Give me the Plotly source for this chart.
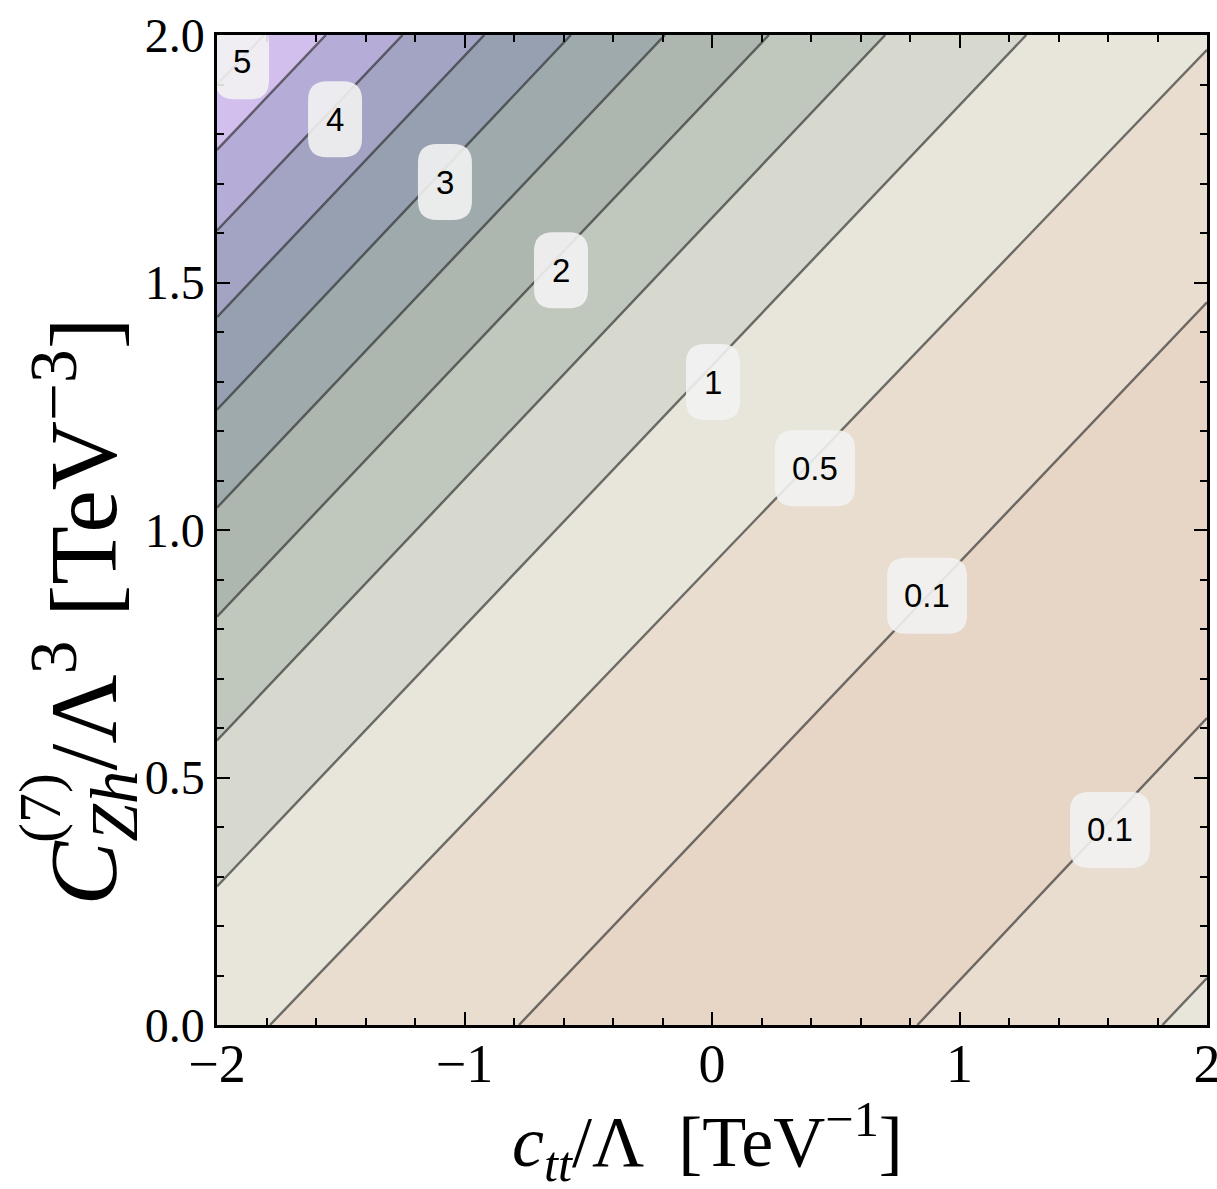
import plotly.graph_objects as go

# ---------------- data ----------------
# contour lines, ordered from lower-right to upper-left
line_levels = [0.5, 0.1, 0.1, 0.5, 1, 1.5, 2, 2.5, 3, 3.5, 4, 4.5, 5]
line_x0 = [1.82, 0.83, -0.78, -1.786, -2, -2, -2, -2, -2, -2, -2, -2, -2]
line_y0 = [0.0, 0.0, 0.0, 0.0, 0.28, 0.575, 0.825, 1.045, 1.243, 1.43, 1.605, 1.768, 1.90]
line_x1 = [2, 2, 2, 2, 1.27, 0.70, 0.23, -0.19, -0.57, -0.92, -1.25, -1.56, -1.81]
line_y1 = [0.095, 0.62, 1.46, 1.97, 2, 2, 2, 2, 2, 2, 2, 2, 2]

# fill colour of each band: below line 0, between consecutive lines, above last line
band_colors = ['#e8e6db', '#e9ddd0', '#e7d6c6', '#e9ddd0', '#e8e6db', '#d7d9cf',
               '#c0c8be', '#aeb6b0', '#9eaaac', '#97a0b0', '#a3a3c3', '#b5acd7',
               '#d2bfee', '#dccbf5']

# contour labels
label_text = ['5', '4', '3', '2', '1', '0.5', '0.1', '0.1']
label_x = [-1.899, -1.523, -1.079, -0.610, 0.004, 0.416, 0.869, 1.608]
label_y = [1.947, 1.830, 1.703, 1.525, 1.299, 1.125, 0.867, 0.394]

x_ticks = [-2, -1, 0, 1, 2]
y_ticks = [0, 0.5, 1, 1.5, 2]
y_ticktext = ['0.0', '0.5', '1.0', '1.5', '2.0']

# ---------------- build figure ----------------
XR = (-2, 2)
YR = (0, 2)
XE = (-3, 3)   # extension beyond the frame (clipped by the axes)


def line_at(i, x):
    x0, y0, x1, y1 = line_x0[i], line_y0[i], line_x1[i], line_y1[i]
    return y0 + (y1 - y0) * (x - x0) / (x1 - x0)


boundaries = [(lambda x: -1.0)] + [(lambda x, i=i: line_at(i, x)) for i in range(len(line_levels))] + [(lambda x: 3.0)]

fig = go.Figure()
for b in range(len(band_colors)):
    lo = boundaries[b]
    hi = boundaries[b + 1]
    xs = [XE[0], XE[1], XE[1], XE[0], XE[0]]
    ys = [lo(XE[0]), lo(XE[1]), hi(XE[1]), hi(XE[0]), lo(XE[0])]
    fig.add_trace(go.Scatter(x=xs, y=ys, mode='lines', fill='toself',
                             fillcolor=band_colors[b], line=dict(width=0),
                             hoverinfo='skip', showlegend=False))

for i in range(len(line_levels)):
    fig.add_trace(go.Scatter(x=[line_x0[i], line_x1[i]], y=[line_y0[i], line_y1[i]],
                             mode='lines', line=dict(color='rgba(30,30,30,0.62)', width=2.4),
                             name=str(line_levels[i]), hoverinfo='skip', showlegend=False))

shapes = []
annotations = []
for t, lx, ly in zip(label_text, label_x, label_y):
    w2 = 27 if len(t) == 1 else 40
    h2 = 38
    r = 19
    path = (f"M {-w2 + r},{-h2} L {w2 - r},{-h2} Q {w2},{-h2} {w2},{-h2 + r} "
            f"L {w2},{h2 - r} Q {w2},{h2} {w2 - r},{h2} L {-w2 + r},{h2} "
            f"Q {-w2},{h2} {-w2},{h2 - r} L {-w2},{-h2 + r} Q {-w2},{-h2} {-w2 + r},{-h2} Z")
    shapes.append(dict(type='path', xref='x', yref='y', xsizemode='pixel', ysizemode='pixel',
                       xanchor=lx, yanchor=ly, path=path,
                       fillcolor='rgba(242,242,242,0.9)', line=dict(width=0), layer='above'))
    annotations.append(dict(x=lx, y=ly, xref='x', yref='y', text=t, showarrow=False,
                            font=dict(family='Liberation Sans', size=33, color='black')))

# axis titles
annotations.append(dict(xref='paper', yref='paper', x=0.495, y=-0.1705,
                        xanchor='center', yanchor='bottom', showarrow=False,
                        text='<i>c</i><sub><i>tt</i></sub>/Λ  [TeV<sup>−1</sup>]',
                        font=dict(family='Liberation Serif', size=72, color='black')))
annotations.append(dict(xref='paper', yref='paper', x=-0.135, y=0.119,
                        xanchor='center', yanchor='bottom', showarrow=False, textangle=-90,
                        text='<i>C</i><sub><i>Zh</i></sub>/Λ<sup>3</sup> [TeV<sup>−3</sup>]',
                        font=dict(family='Liberation Serif', size=96, color='black')))
annotations.append(dict(xref='paper', yref='paper', x=-0.179, y=0.219,
                        xanchor='center', yanchor='middle', showarrow=False, textangle=-90,
                        text='(7)',
                        font=dict(family='Liberation Serif', size=60, color='black')))

axis_common = dict(showgrid=False, zeroline=False, showline=True, linecolor='black',
                   linewidth=2.5, mirror='allticks', ticks='inside', ticklen=13,
                   tickwidth=2, tickcolor='black', automargin=False)

fig.update_layout(
    width=1217, height=1189,
    margin=dict(l=217, r=10, t=35, b=164, autoexpand=False),
    paper_bgcolor='white', plot_bgcolor='white',
    shapes=shapes, annotations=annotations,
    xaxis=dict(range=list(XR), tickvals=x_ticks, ticklabelstandoff=-11,
               ticklabeloverflow='allow',
               tickfont=dict(family='Liberation Serif', size=54, color='black'),
               minor=dict(ticks='inside', ticklen=7, tickwidth=1.5, tickcolor='black',
                          dtick=0.2, tick0=-2),
               **axis_common),
    yaxis=dict(range=list(YR), tickvals=y_ticks, ticktext=y_ticktext,
               tickfont=dict(family='Liberation Serif', size=48, color='black'),
               minor=dict(ticks='inside', ticklen=7, tickwidth=1.5, tickcolor='black',
                          dtick=0.1, tick0=0),
               **axis_common),
)

fig.write_html('out.html')
